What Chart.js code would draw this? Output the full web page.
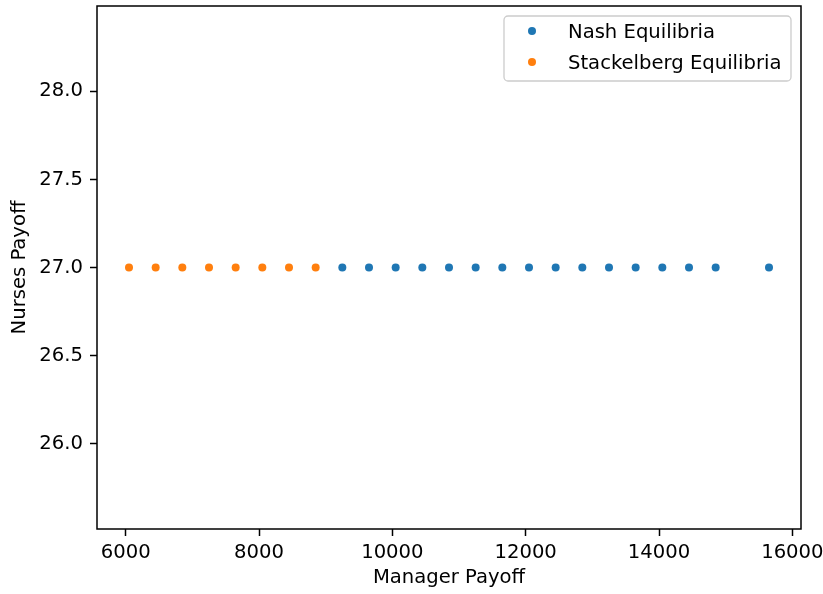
<!DOCTYPE html>
<html>
<head>
<meta charset="utf-8">
<script src="https://cdn.jsdelivr.net/npm/chart.js@4.4.1/dist/chart.umd.min.js"></script>
<style>
  html, body { margin: 0; padding: 0; background: #fff; }
  #wrap { width: 823px; height: 594px; }
</style>
</head>
<body>
<div id="wrap"><canvas id="c" width="823" height="594"></canvas></div>
<script>
// ---- Data ----
const seriesNames = ["Nash Equilibria", "Stackelberg Equilibria"];
const nashManager = [9250, 9650, 10050, 10450, 10850, 11250, 11650, 12050, 12450, 12850, 13250, 13650, 14050, 14450, 14850, 15650];
const nashNurses  = [27, 27, 27, 27, 27, 27, 27, 27, 27, 27, 27, 27, 27, 27, 27, 27];
const stackManager = [6050, 6450, 6850, 7250, 7650, 8050, 8450, 8850];
const stackNurses  = [27, 27, 27, 27, 27, 27, 27, 27];
const xTickValues = [6000, 8000, 10000, 12000, 14000, 16000];
const yTickValues = [26.0, 26.5, 27.0, 27.5, 28.0];

const FONT = "'DejaVu Sans', sans-serif";
const FS = 19.6;
const colors = ["#1f77b4", "#ff7f0e"];

function toPoints(xs, ys) { return xs.map((x, i) => ({ x: x, y: ys[i] })); }

const framePlugin = {
  id: 'frame',
  afterDraw(chart) {
    const { ctx, chartArea: a } = chart;
    ctx.save();
    ctx.strokeStyle = '#000';
    ctx.lineWidth = 1.5;
    ctx.strokeRect(a.left, a.top, a.right - a.left, a.bottom - a.top);
    ctx.restore();
  }
};

const legendPlugin = {
  id: 'mplLegend',
  afterDraw(chart) {
    const ctx = chart.ctx;
    const a = chart.chartArea;
    const boxRight = a.right - 10, boxTop = a.top + 10;
    const boxW = 287, boxH = 65;
    const x0 = boxRight - boxW, y0 = boxTop;
    ctx.save();
    ctx.beginPath();
    if (ctx.roundRect) ctx.roundRect(x0, y0, boxW, boxH, 4); else ctx.rect(x0, y0, boxW, boxH);
    ctx.fillStyle = 'rgba(255,255,255,0.8)';
    ctx.fill();
    ctx.strokeStyle = '#cccccc';
    ctx.lineWidth = 1.3;
    ctx.stroke();
    const rows = [ { cy: y0 + 15, base: y0 + 22 }, { cy: y0 + 46, base: y0 + 53 } ];
    ctx.font = FS + 'px ' + FONT;
    ctx.textBaseline = 'alphabetic';
    ctx.textAlign = 'left';
    chart.data.datasets.forEach((ds, i) => {
      ctx.beginPath();
      ctx.arc(x0 + 28, rows[i].cy, 4, 0, Math.PI * 2);
      ctx.fillStyle = ds.backgroundColor;
      ctx.fill();
      ctx.fillStyle = '#000';
      ctx.fillText(ds.label, x0 + 64, rows[i].base);
    });
    ctx.restore();
  }
};

new Chart(document.getElementById('c'), {
  type: 'scatter',
  data: {
    datasets: [
      { label: seriesNames[0], data: toPoints(nashManager, nashNurses), backgroundColor: colors[0], borderWidth: 0, pointRadius: 4, pointHoverRadius: 4 },
      { label: seriesNames[1], data: toPoints(stackManager, stackNurses), backgroundColor: colors[1], borderWidth: 0, pointRadius: 4, pointHoverRadius: 4 }
    ]
  },
  options: {
    responsive: false,
    animation: false,
    devicePixelRatio: 1,
    layout: { padding: { top: 6, right: 22, left: 0, bottom: 0 } },
    plugins: { legend: { display: false }, tooltip: { enabled: false } },
    scales: {
      x: {
        type: 'linear',
        min: 5570, max: 16130,
        afterBuildTicks(s) { s.ticks = xTickValues.map(v => ({ value: v })); },
        afterFit(s) { s.height = 65; s.paddingLeft = 0; s.paddingRight = 0; s.paddingTop = 0; s.paddingBottom = 0; },
        ticks: { color: '#000', font: { family: FONT, size: FS }, padding: 5, maxRotation: 0, autoSkip: false,
                 callback: v => String(v) },
        grid: { drawOnChartArea: false, drawTicks: true, tickLength: 7, tickWidth: 1.5, tickColor: '#000' },
        border: { display: false },
        title: { display: true, text: 'Manager Payoff', color: '#000', font: { family: FONT, size: FS, lineHeight: 1.2 }, padding: { top: 0, bottom: 4 } }
      },
      y: {
        type: 'linear',
        min: 25.515, max: 28.485,
        afterBuildTicks(s) { s.ticks = yTickValues.map(v => ({ value: v })); },
        afterFit(s) { s.width = 97; s.paddingLeft = 0; s.paddingRight = 0; s.paddingTop = 0; s.paddingBottom = 0; },
        ticks: { color: '#000', font: { family: FONT, size: FS }, padding: 7, autoSkip: false,
                 callback: v => Number(v).toFixed(1) },
        grid: { drawOnChartArea: false, drawTicks: true, tickLength: 7, tickWidth: 1.5, tickColor: '#000' },
        border: { display: false },
        title: { display: true, text: 'Nurses Payoff', color: '#000', font: { family: FONT, size: FS, lineHeight: 1.2 }, padding: { top: 8, bottom: 0 } }
      }
    }
  },
  plugins: [framePlugin, legendPlugin]
});
</script>
</body>
</html>
